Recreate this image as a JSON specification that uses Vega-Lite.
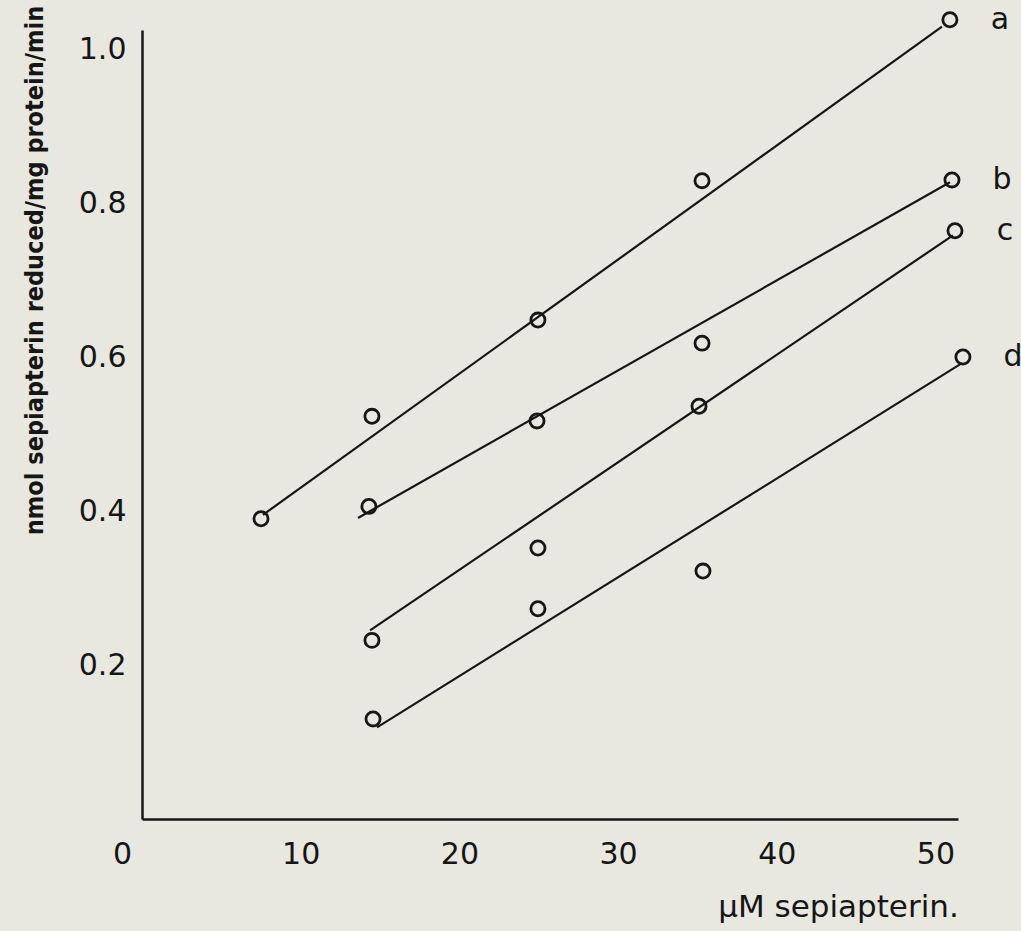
{
  "$schema": "https://vega.github.io/schema/vega-lite/v6.json",
  "width": 816,
  "height": 789,
  "autosize": {"type": "none"},
  "padding": {"left": 142, "top": 30, "right": 63, "bottom": 112},
  "background": "#e8e8e1",
  "config": {"view": {"stroke": null}},
  "datasets": {
    "points": [
      {"series": "a", "conc": 7.5, "rate": 0.390},
      {"series": "a", "conc": 14.49, "rate": 0.523},
      {"series": "a", "conc": 24.95, "rate": 0.648},
      {"series": "a", "conc": 35.29, "rate": 0.829},
      {"series": "a", "conc": 50.91, "rate": 1.038},
      {"series": "b", "conc": 14.30, "rate": 0.406},
      {"series": "b", "conc": 24.89, "rate": 0.517},
      {"series": "b", "conc": 35.29, "rate": 0.618},
      {"series": "b", "conc": 51.04, "rate": 0.830},
      {"series": "c", "conc": 14.49, "rate": 0.232},
      {"series": "c", "conc": 24.95, "rate": 0.352},
      {"series": "c", "conc": 35.10, "rate": 0.536},
      {"series": "c", "conc": 51.23, "rate": 0.764},
      {"series": "d", "conc": 14.56, "rate": 0.130},
      {"series": "d", "conc": 24.95, "rate": 0.273},
      {"series": "d", "conc": 35.35, "rate": 0.322},
      {"series": "d", "conc": 51.73, "rate": 0.600}
    ],
    "fits": [
      {"series": "a", "conc": 7.62, "rate": 0.395},
      {"series": "a", "conc": 50.41, "rate": 1.029},
      {"series": "b", "conc": 13.61, "rate": 0.391},
      {"series": "b", "conc": 50.91, "rate": 0.827},
      {"series": "c", "conc": 14.37, "rate": 0.245},
      {"series": "c", "conc": 51.10, "rate": 0.758},
      {"series": "d", "conc": 14.81, "rate": 0.119},
      {"series": "d", "conc": 51.67, "rate": 0.592}
    ],
    "labels": [
      {"series": "a", "conc": 50.91, "rate": 1.038},
      {"series": "b", "conc": 51.04, "rate": 0.830},
      {"series": "c", "conc": 51.23, "rate": 0.764},
      {"series": "d", "conc": 51.73, "rate": 0.600}
    ]
  },
  "layer": [
    {
      "data": {"name": "fits"},
      "mark": {"type": "line", "color": "#161616", "strokeWidth": 2.2},
      "encoding": {
        "x": {
          "field": "conc", "type": "quantitative",
          "scale": {"domain": [0, 51.42], "nice": false, "zero": false},
          "axis": {
            "values": [0, 10, 20, 30, 40, 50],
            "ticks": false, "grid": false,
            "domainColor": "#161616", "domainWidth": 2.5,
            "labelFont": "DejaVu Sans", "labelFontSize": 30, "labelColor": "#161616",
            "labelPadding": 20, "labelFlush": false,
            "labelOffset": {"condition": {"test": "datum.value === 0", "value": -20}, "value": 0},
            "title": "µM sepiapterin.",
            "titleFont": "DejaVu Sans", "titleFontSize": 31, "titleFontWeight": "normal", "titleColor": "#161616",
            "titleX": 696, "titleY": 97, "titleAlign": "center", "titleBaseline": "alphabetic"
          }
        },
        "y": {
          "field": "rate", "type": "quantitative",
          "scale": {"domain": [0, 1.0247], "nice": false, "zero": false},
          "axis": {
            "values": [0.2, 0.4, 0.6, 0.8, 1.0],
            "format": ".1f",
            "ticks": false, "grid": false,
            "domainColor": "#161616", "domainWidth": 2.5,
            "labelFont": "DejaVu Sans", "labelFontSize": 30, "labelColor": "#161616",
            "labelPadding": 16,
            "title": "nmol sepiapterin reduced/mg protein/min",
            "titleFont": "Liberation Sans Narrow, DejaVu Sans Condensed, sans-serif",
            "titleFontSize": 25, "titleFontWeight": "bold", "titleColor": "#161616",
            "titleAngle": 270, "titleX": -108, "titleY": 240,
            "titleAlign": "center", "titleBaseline": "middle"
          }
        },
        "detail": {"field": "series"}
      }
    },
    {
      "data": {"name": "points"},
      "mark": {"type": "point", "shape": "circle", "filled": false, "size": 200, "strokeWidth": 2.8, "color": "#161616", "opacity": 1},
      "encoding": {
        "x": {"field": "conc", "type": "quantitative"},
        "y": {"field": "rate", "type": "quantitative"}
      }
    },
    {
      "data": {"name": "labels"},
      "mark": {"type": "text", "dx": 50, "font": "DejaVu Sans", "fontSize": 30, "color": "#161616", "align": "center", "baseline": "middle"},
      "encoding": {
        "x": {"field": "conc", "type": "quantitative"},
        "y": {"field": "rate", "type": "quantitative"},
        "text": {"field": "series"}
      }
    }
  ]
}
